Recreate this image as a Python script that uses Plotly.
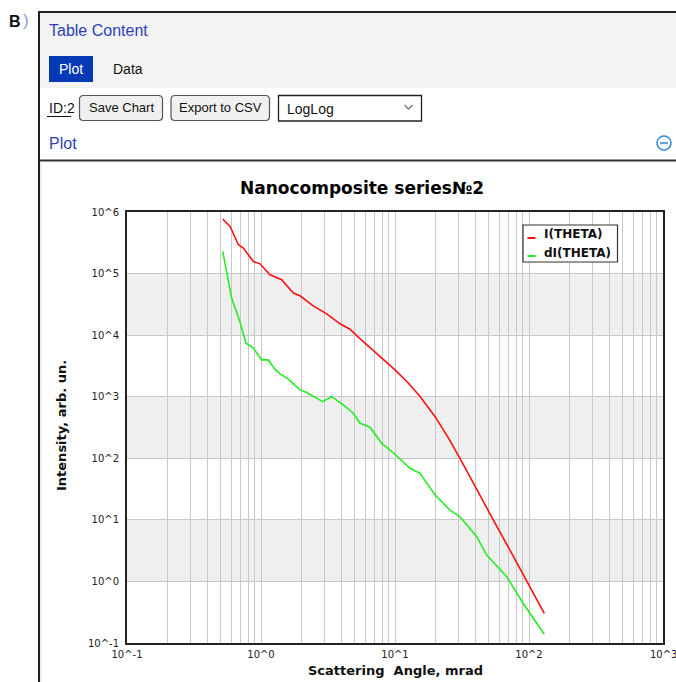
import plotly.graph_objects as go

# ---------------- data ----------------
theta_I = [0.518, 0.588, 0.678, 0.738, 0.877, 0.984, 1.167, 1.426, 1.742, 1.954,
           2.455, 3.090, 3.890, 4.613, 5.420, 10.0, 12.5, 15.38, 19.91, 24.7, 30.55, 38.37,
           54.2, 72.1, 98.9, 130.0]
I_theta = [7.69e5, 5.83e5, 2.94e5, 2.60e5, 1.57e5, 1.44e5, 9.55e4, 7.93e4, 4.82e4, 4.36e4,
           2.99e4, 2.22e4, 1.53e4, 1.25e4, 8930, 2730, 1690, 1005, 474, 225, 100, 39.2,
           9.93, 3.23, 0.927, 0.302]

theta_dI = [0.518, 0.604, 0.689, 0.773, 0.877, 1.012, 1.132, 1.271, 1.387, 1.600,
            1.954, 2.193, 2.884, 3.373, 4.111, 4.887, 5.483, 6.501, 7.962, 9.705,
            12.94, 15.38, 19.91, 25.70, 30.55, 40.74, 48.31, 68.23, 90.57, 130.0]
dI_theta = [2.29e5, 4.0e4, 1.77e4, 7410, 6150, 3960, 3960, 2800, 2350, 1930,
            1290, 1170, 832, 1005, 736, 540, 371, 319, 175, 123,
            68.7, 57.0, 25.3, 14.4, 11.2, 5.31, 2.68, 1.19, 0.439, 0.139]

series_names = ["I(THETA)", "dI(THETA)"]
series_colors = ["#ff1010", "#22ee22"]

x_decades = [-1, 0, 1, 2, 3]
y_decades = [-1, 0, 1, 2, 3, 4, 5, 6]
band_decades = [0, 2, 4]          # shaded bands span [10^k, 10^(k+1)]

chart_title = "Nanocomposite series№2"
x_title = "Scattering\u00a0 Angle, mrad"
y_title = "Intensity, arb. un."

# ---------------- geometry ----------------
W, H = 676, 682
L, R, T, B = 127, 13, 212, 39
PW, PH = W - L - R, H - T - B


def px(x):
    return (x - L) / PW


def py(y):
    return (H - B - y) / PH


# tick values (grid at 1..9 x 10^k on x, decades on y)
x_tickvals, x_ticktext = [], []
for k in x_decades:
    for m in range(1, 10):
        if k == x_decades[-1] and m > 1:
            break
        x_tickvals.append(m * 10.0 ** k)
        x_ticktext.append(f"10^{k}" if m == 1 else "")
y_tickvals = [10.0 ** k for k in y_decades]
y_ticktext = [f"10^{k}" for k in y_decades]

fig = go.Figure()
fig.add_trace(go.Scatter(x=theta_I, y=I_theta, mode="lines", name=series_names[0],
                         line=dict(color=series_colors[0], width=1.6), showlegend=False))
fig.add_trace(go.Scatter(x=theta_dI, y=dI_theta, mode="lines", name=series_names[1],
                         line=dict(color=series_colors[1], width=1.6), showlegend=False))

shapes = []
annotations = []

# shaded bands inside the plot
ymin, ymax = y_decades[0], y_decades[-1]
for k in band_decades:
    shapes.append(dict(type="rect", xref="x domain", yref="y domain", x0=0, x1=1,
                       y0=(k - ymin) / (ymax - ymin), y1=(k + 1 - ymin) / (ymax - ymin),
                       fillcolor="#efefef", line=dict(width=0), layer="below"))


def rect(x0, y0, x1, y1, fill=None, line=None, lw=1):
    d = dict(type="rect", xref="paper", yref="paper", x0=px(x0), x1=px(x1), y0=py(y1), y1=py(y0),
             line=dict(width=lw if line else 0, color=line or "rgba(0,0,0,0)"))
    d["fillcolor"] = fill if fill else "rgba(0,0,0,0)"
    shapes.append(d)


def seg(x0, y0, x1, y1, color, lw=1):
    shapes.append(dict(type="line", xref="paper", yref="paper", x0=px(x0), x1=px(x1),
                       y0=py(y0), y1=py(y1), line=dict(color=color, width=lw)))


def rrect(x0, y0, x1, y1, r, fill, line, lw=1):
    pts = lambda x, y: f"{px(x):.5f},{py(y):.5f}"
    p = (f"M {pts(x0 + r, y0)} L {pts(x1 - r, y0)} Q {pts(x1, y0)} {pts(x1, y0 + r)} "
         f"L {pts(x1, y1 - r)} Q {pts(x1, y1)} {pts(x1 - r, y1)} "
         f"L {pts(x0 + r, y1)} Q {pts(x0, y1)} {pts(x0, y1 - r)} "
         f"L {pts(x0, y0 + r)} Q {pts(x0, y0)} {pts(x0 + r, y0)} Z")
    shapes.append(dict(type="path", xref="paper", yref="paper", path=p,
                       fillcolor=fill, line=dict(color=line, width=lw)))


def text(s, x, y, size, color="#000", family="Liberation Sans, Arial, sans-serif",
         xanchor="left", angle=0):
    annotations.append(dict(text=s, xref="paper", yref="paper", x=px(x), y=py(y),
                            xanchor=xanchor, yanchor="middle", showarrow=False,
                            textangle=angle, font=dict(size=size, color=color, family=family)))


UI_BLUE = "#2f3fb8"

# ---------------- page UI ----------------
rect(40, 13, 676, 88, fill="#f3f3f3")
seg(39, 12, 39, 682, "#222", 2)
seg(38, 12, 676, 12, "#222", 2)
seg(40, 160.5, 676, 160.5, "#333", 2)
seg(41, 162, 41, 682, "#dddddd", 1)

text("<b>B</b>", 7, 21, 16, "#111")
text(")", 21, 20.5, 17, "#7f9fd0")
text("Table Content", 47, 30.5, 16, UI_BLUE)

rect(49, 56, 93, 82, fill="#0639b4")
text("Plot", 71, 69, 14, "#ffffff", xanchor="center")
text("Data", 127.5, 69, 14, "#111", xanchor="center")

text("ID:2", 46.5, 107.5, 14, "#111")
seg(47, 116.5, 71, 116.5, "#111", 1)
rrect(79.5, 95.5, 162.5, 120.5, 4, "#f0f0f0", "#555", 1.2)
text("Save Chart", 121, 107.5, 13, "#111", xanchor="center")
rrect(171, 95.5, 269.5, 120.5, 4, "#f0f0f0", "#555", 1.2)
text("Export to CSV", 220, 107.5, 13, "#111", xanchor="center")
rect(278.5, 95.5, 421.5, 121, fill="#ffffff", line="#222", lw=1.3)
text("LogLog", 285, 108.5, 14, "#111")
shapes.append(dict(type="path", xref="paper", yref="paper",
                   path=f"M {px(404.5)},{py(105)} L {px(408.5)},{py(109)} L {px(412.5)},{py(105)}",
                   line=dict(color="#777", width=1.3)))

text("Plot", 47, 143, 16, UI_BLUE)
shapes.append(dict(type="circle", xref="paper", yref="paper", x0=px(657), x1=px(671),
                   y0=py(150), y1=py(136), line=dict(color="#3d8bd6", width=1.6)))
seg(660, 143, 668, 143, "#3d8bd6", 1.6)

# ---------------- chart texts ----------------
text("<b>" + chart_title + "</b>", 362, 188, 17, "#000", family="DejaVu Sans", xanchor="center")
text("<b>" + x_title + "</b>", 395, 670, 13, "#111", family="DejaVu Sans", xanchor="center")
text("<b>" + y_title + "</b>", 61, 426, 13, "#111", family="DejaVu Sans", xanchor="center", angle=-90)

# last x tick label sits on the right edge of the plot (drawn as text so it is not dropped)
annotations.append(dict(text=x_ticktext[-1], xref="paper", yref="paper",
                        x=1.0, y=py(654), xanchor="center", yanchor="middle", showarrow=False,
                        font=dict(family="DejaVu Sans", size=10, color="#222")))

# ---------------- manual legend ----------------
rect(523, 225, 617.5, 262, fill="#ffffff", line="#333", lw=1.2)
for i, (nm, col) in enumerate(zip(series_names, series_colors)):
    yc = 234.5 + 18 * i
    seg(527.5, yc + 3.5, 535.5, yc + 3.5, col, 2)
    text("<b>" + nm + "</b>", 542, yc, 12, "#111", family="DejaVu Sans")

axis_common = dict(type="log", showline=True, linecolor="#222", linewidth=2, mirror=True,
                   showgrid=True, gridcolor="#c8c8c8", gridwidth=1, zeroline=False,
                   ticks="", tickfont=dict(family="DejaVu Sans", size=10, color="#222"))

fig.update_layout(
    width=W, height=H,
    margin=dict(l=L, r=R, t=T, b=B, pad=0),
    paper_bgcolor="#ffffff", plot_bgcolor="#ffffff",
    showlegend=False,
    xaxis=dict(range=[x_decades[0], x_decades[-1]], tickvals=x_tickvals[:-1], ticktext=x_ticktext[:-1],
               ticklabelstandoff=1, **axis_common),
    yaxis=dict(range=[y_decades[0], y_decades[-1]], tickvals=y_tickvals, ticktext=y_ticktext,
               ticklabelstandoff=4, **axis_common),
    shapes=shapes,
    annotations=annotations,
)

fig.write_html("out.html", config={"displayModeBar": False},
               post_script="document.body.style.margin='0';")
